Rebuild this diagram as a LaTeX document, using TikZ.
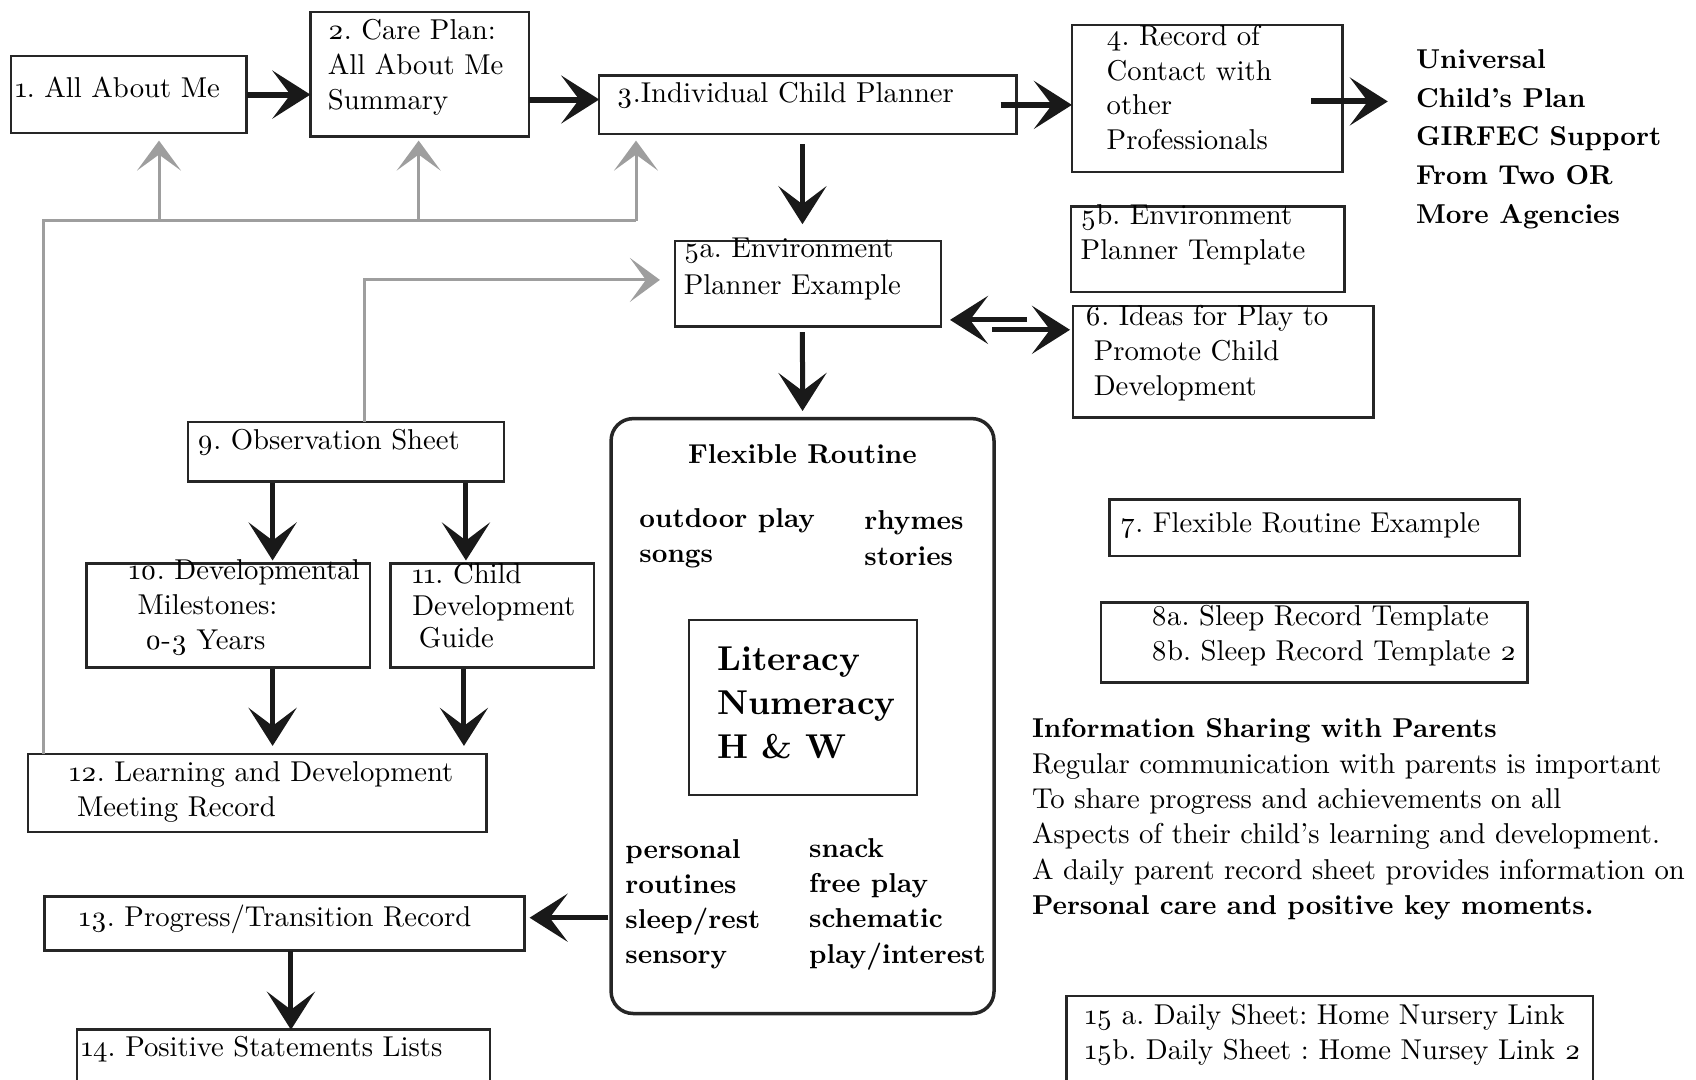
\RequirePackage{fix-cm}
\documentclass[tikz,border=0pt]{standalone}
\usepackage{fontspec}
\setmainfont{lmroman10-regular.otf}[BoldFont=lmroman10-bold.otf, ItalicFont=lmroman10-italic.otf]
\usetikzlibrary{arrows.meta,calc,fit}
\newcommand\osn[1]{\oldstylenums{#1}}
\frenchspacing
\tikzset{
  box/.style={draw=black!85, line width=2.5pt, inner sep=0pt, outer sep=0pt},
  txt/.style={anchor=west, align=left, inner sep=0pt, font=\fontsize{28.7}{35}\selectfont},
  boldtxt/.style={txt, font=\fontsize{27.3}{35.3}\selectfont\bfseries},
  blk/.style={draw=black!90, line width=5pt, -{Stealth[length=38pt,width=48pt,inset=18pt]}},
  gry/.style={draw=black!38, line width=3pt},
  grytip/.style={gry, -{Stealth[length=30pt,width=44pt,inset=16pt]}}
}
\begin{document}
\begin{tikzpicture}[x=1pt, y=-1pt]
\useasboundingbox (0,0) rectangle (1696,1079);
\clip (0,0) rectangle (1696,1079);
\fill[white] (0,0) rectangle (1696,1079);

% boxes
\node[box, fit={(10.8,56.2) (246.6,133.0)}] (allme) {};
\node[box, fit={(310.4,11.9) (528.9,136.3)}] (care) {};
\node[box, fit={(599.2,75.7) (1016.7,134.1)}] (plan) {};
\node[box, fit={(1071.9,24.9) (1342.3,172.0)}] (rec) {};
\node[box, fit={(674.9,241.2) (941.0,326.6)}] (enva) {};
\node[box, fit={(1070.8,206.6) (1344.4,292.0)}] (envb) {};
\node[box, fit={(1073.0,306.1) (1373.6,417.5)}] (ideas) {};
\node[box, rounded corners=22pt, line width=3.5pt, fit={(611.1,418.6) (994.0,1013.5)}] (flex) {};
\node[box, fit={(689.0,619.8) (917.2,795.0)}] (core) {};
\node[box, fit={(1109.7,499.7) (1519.7,555.9)}] (exmp) {};
\node[box, fit={(1101.1,602.5) (1527.3,682.5)}] (sleep) {};
\node[box, fit={(1066.5,996.2) (1593.2,1090)}] (daily) {};
\node[box, fit={(188.2,421.8) (504.0,481.3)}] (obs) {};
\node[box, fit={(86.5,563.5) (369.9,667.3)}] (mile) {};
\node[box, fit={(390.5,563.5) (593.8,667.3)}] (guide) {};
\node[box, fit={(28.1,753.9) (486.7,831.8)}] (lnd) {};
\node[box, fit={(44.3,896.7) (524.6,950.7)}] (prog) {};
\node[box, fit={(76.8,1029.7) (490.0,1090)}] (pos) {};

% texts
\node[txt] (tallme) at (15.1,87.6) {\osn{1}. All About Me};
\node[txt] (tcare) at (327.7,67.6) {\osn{2}. Care Plan:\\All About Me\\Summary};
\node[txt] (tplan) at (616.5,95.2) {\osn{3}.Individual Child Planner};
\node[txt, font=\fontsize{28.7}{34.6}\selectfont] (trec) at (1106.5,87.6) {\osn{4}. Record of\\Contact with\\other\\Professionals};
\node[boldtxt, font=\fontsize{27.3}{38.7}\selectfont\bfseries] (ucp) at (1415.8,139) {Universal\\Child’s Plan\\GIRFEC Support\\From Two OR\\More Agencies};
\node[txt, font=\fontsize{28.7}{37.5}\selectfont] (tenva) at (683.6,268.8) {\osn{5}a. Environment\\Planner Example};
\node[txt, font=\fontsize{28.7}{34.6}\selectfont] (tenvb) at (1080.5,234.7) {\osn{5}b. Environment\\Planner Template};
\node[txt] (tideas) at (1084.9,353.1) {\osn{6}. Ideas for Play to\\\hspace*{8.7pt}Promote Child\\\hspace*{8.7pt}Development};
\node[boldtxt, anchor=center] (tflex) at (802.5,454.3) {Flexible Routine};
\node[boldtxt] (tout) at (639.2,538.6) {outdoor play\\songs};
\node[boldtxt] (trhy) at (864.2,538.1) {rhymes\\stories};
\node[boldtxt, font=\fontsize{34.5}{44.3}\selectfont\bfseries] (tcore) at (717.1,703) {Literacy\\Numeracy\\H \& W};
\node[boldtxt] (tpers) at (625.2,904.2) {personal\\routines\\sleep/rest\\sensory};
\node[boldtxt] (tsnack) at (809,904.2) {snack\\free play\\schematic\\play/interest};
\node[txt] (texmp) at (1120.6,525.7) {\osn{7}. Flexible Routine Example};
\node[txt] (tsleep) at (1150.8,635.4) {\osn{8}a. Sleep Record Template\\\osn{8}b. Sleep Record Template \osn{2}};
\node[txt, font=\fontsize{28.7}{35.3}\selectfont] (tinfo) at (1031.8,819.3) {\textbf{\fontsize{27.3}{35.3}\selectfont Information Sharing with Parents}\\Regular communication with parents is important\\To share progress and achievements on all\\Aspects of their child’s learning and development.\\A daily parent record sheet provides information on\\\textbf{\fontsize{27.3}{35.3}\selectfont Personal care and positive key moments.}};
\node[txt] (tobs) at (196.9,442.4) {\osn{9}. Observation Sheet};
\node[txt] (tmile) at (128.7,607.9) {\osn{10}. Developmental\\\hspace*{8.7pt}Milestones:\\\hspace*{16.2pt}\osn{0}-\osn{3} Years};
\node[txt, font=\fontsize{28.7}{32}\selectfont] (tguide) at (412.1,605.2) {\osn{11}. Child\\Development\\\hspace*{6.5pt}Guide};
\node[txt] (tlnd) at (69.2,791.7) {\osn{12}. Learning and Development\\\hspace*{7.6pt}Meeting Record};
\node[txt] (tprog) at (79,919.4) {\osn{13}. Progress/Transition Record};
\node[txt] (tpos) at (81.1,1049.2) {\osn{14}. Positive Statements Lists};
\node[txt] (tdaily) at (1084.9,1034.5) {\osn{15} a. Daily Sheet: Home Nursery Link\\\osn{15}b. Daily Sheet : Home Nursey Link \osn{2}};

% black connectors
\draw[blk, line width=6pt] (allme.east) -- (allme.east -| care.west);
\draw[blk, line width=6pt] ($(care.east)+(0,25.4)$) -- ($(care.east -| plan.west)+(0,25.4)$);
\draw[blk, line width=6pt] ($(plan.east)+(-16,0)$) -- (plan.east -| rec.west);
\draw[blk, line width=6pt] ($(rec.east)+(-31,3)$) -- ($(rec.east -| ucp.west)+(-28,3)$);
\draw[blk] ($(plan.south)+(-5.5,10)$) -- ($(enva.north)+(-5.5,-17)$);
\draw[blk] ($(enva.south)+(-5.5,5.5)$) -- ($(flex.north)+(0,-7.6)$);
\draw[blk] ($(enva.east)+(86,36)$) -- ($(enva.east)+(9,36)$);
\draw[blk] ($(ideas.west)+(-81,-32)$) -- ($(ideas.west)+(-3,-32)$);
\draw[blk] ($(flex.west |- prog.east)+(-3,-6)$) -- ($(prog.east)+(5,-6)$);
\draw[blk] ($(mile.north |- obs.south)+(44.4,2)$) -- ($(mile.north)+(44.4,-3)$);
\draw[blk] ($(guide.north |- obs.south)+(-26.2,2)$) -- ($(guide.north)+(-26.2,-3)$);
\draw[blk] ($(mile.south)+(44.4,2)$) -- ($(mile.south |- lnd.north)+(44.4,-8)$);
\draw[blk] ($(guide.south)+(-28.2,2)$) -- ($(guide.south |- lnd.north)+(-28.2,-8)$);
\draw[blk] ($(prog.south)+(6.5,0)$) -- ($(prog.south |- pos.north)+(6.5,0)$);

% grey feedback lines
\coordinate (busl) at (43.3,220.6);
\coordinate (busr) at (636,220.6);
\draw[gry] ($(lnd.north west)+(15.2,0)$) -- (busl) -- (busr);
\draw[grytip] ($(allme.south |- busl)+(30.3,0)$) -- ($(allme.south)+(30.3,7.6)$);
\draw[grytip] ($(care.south |- busl)+(-1,0)$) -- ($(care.south)+(-1,4.3)$);
\draw[grytip] (busr) -- ($(busr |- plan.south)+(0,6.5)$);
\draw[grytip] ($(obs.north)+(18.4,0)$) |- ($(enva.west)+(-15,-4)$);
\end{tikzpicture}
\end{document}
